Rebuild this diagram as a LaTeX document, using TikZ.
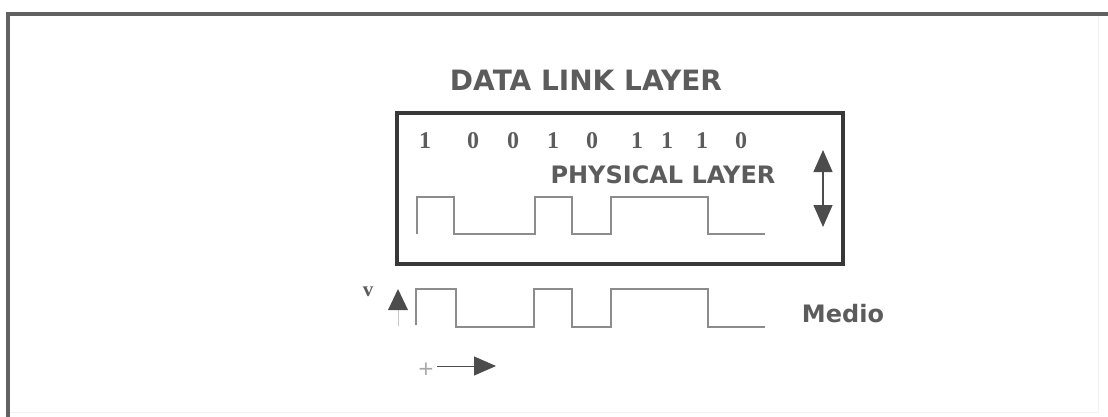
\documentclass[tikz,border=0pt]{standalone}
\usepackage{fontspec}
\usetikzlibrary{arrows.meta}
\newfontfamily\dvsans{DejaVu Sans}
\newfontfamily\lserif{Liberation Serif}
\definecolor{txtgray}{rgb}{0.36,0.36,0.36}
\definecolor{framegray}{rgb}{0.38,0.38,0.38}
\definecolor{boxdark}{rgb}{0.22,0.22,0.22}
\definecolor{wavegray}{rgb}{0.55,0.55,0.55}
\definecolor{arrowgray}{rgb}{0.30,0.30,0.30}
\tikzset{
  x=1pt, y=-1pt,
  boldlabel/.style={font=\dvsans\bfseries\fontsize{#1}{#1}\selectfont, text=txtgray, inner sep=0pt},
  bit/.style={font=\lserif\bfseries\fontsize{24}{24}\selectfont, text=txtgray, inner sep=0pt},
  wave/.style={draw=wavegray, line width=1.6pt, line join=miter},
  layerbox/.style={draw=boxdark, line width=3.5pt},
  headarrow/.style={draw=arrowgray, line width=1.2pt, -{Triangle[length=22pt,width=19pt]}},
}
\begin{document}
\begin{tikzpicture}
\useasboundingbox (0,0) rectangle (1108,417);
% outer frame
\draw[draw=gray!10, line width=1pt] (8,14) rectangle (1098,412);
\draw[draw=framegray, line width=4pt] (1108,14) -- (8,14) -- (8,417);
% title
\node[boldlabel=28] (dll) at (586,80) {DATA LINK LAYER};
% inner box
\node[layerbox, minimum width=446pt, minimum height=151pt, inner sep=0pt] (box) at (620,188.5) {};
% bits
\foreach \b/\x [count=\i] in {1/425,0/473,0/513,1/553,0/592,1/637,1/667,1/702,0/741}
  \node[bit] (b\i) at (\x,141) {\b};
\node[boldlabel=24] (phys) at (663,175) {PHYSICAL LAYER};
% inner waveform
\draw[wave] (417,234) -- (417,197) -- (454,197) -- (454,234) -- (535,234) -- (535,197)
  -- (572,197) -- (572,234) -- (611,234) -- (611,197) -- (708,197) -- (708,234) -- (765,234);
% double arrow
\coordinate (dtop) at (823,150);
\coordinate (dbot) at (823,227);
\draw[draw=arrowgray, line width=1.2pt, {Triangle[length=22pt,width=19pt]}-{Triangle[length=22pt,width=19pt]}] (dtop) -- (dbot);
% outer waveform (medium)
\draw[wave] (416,325) -- (416,289) -- (456,289) -- (456,327) -- (534,327) -- (534,289)
  -- (572,289) -- (572,327) -- (611,327) -- (611,289) -- (708,289) -- (708,327) -- (765,327);
\node[boldlabel=24] (medio) at (843,314) {Medio};
% voltage axis
\node[font=\lserif\bfseries\fontsize{21}{21}\selectfont, text=txtgray, inner sep=0pt] (v) at (368,292) {v};
\coordinate (vbot) at (398,326);
\coordinate (vtop) at (398,289);
\draw[draw=gray!45, line width=0.8pt] (vbot) -- (398,305);
\fill[arrowgray] (vtop) -- (408,310) -- (388,310) -- cycle;
% time axis
\node[font=\dvsans\fontsize{20}{20}\selectfont, text=gray!70, inner sep=0pt] (t) at (426,369) {+};
\coordinate (tstart) at (437,366);
\coordinate (tend) at (496,366);
\draw[headarrow, line width=1pt] (tstart) -- (tend);
\end{tikzpicture}
\end{document}
